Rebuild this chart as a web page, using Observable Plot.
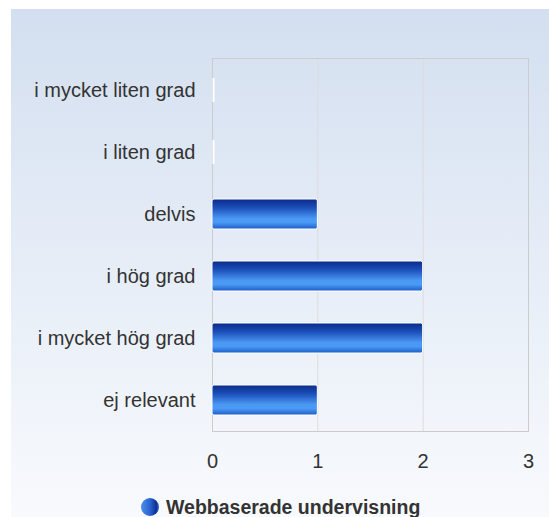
<!DOCTYPE html>
<html>
<head>
<meta charset="utf-8">
<script src="https://cdn.jsdelivr.net/npm/d3@7"></script>
<script src="https://cdn.jsdelivr.net/npm/@observablehq/plot@0.6"></script>
<style>
  html, body { margin: 0; padding: 0; background: #ffffff; }
  #wrap {
    position: absolute; left: 11px; top: 9px; width: 538px; height: 508px;
    background: linear-gradient(to bottom, #d3dff0 0%, #e6edf7 50%, #f8fafd 100%);
    font-family: "Liberation Sans", Arial, sans-serif;
  }
  #legend {
    position: absolute; left: 130px; top: 488px; height: 20px;
    display: flex; align-items: center; gap: 7px;
    font-weight: bold; font-size: 19.5px; color: #333;
  }
  #legend .dot {
    width: 18px; height: 18px; border-radius: 50%; flex: none;
    background: linear-gradient(to right, #4d8fe9 0%, #2a63d0 50%, #0d2f93 85%, #3a6fd6 100%);
  }
</style>
</head>
<body>
<div id="wrap">
  <div id="chart"></div>
  <div id="legend"><span class="dot"></span><span id="legendText"></span></div>
</div>
<script>
const categories = ["i mycket liten grad", "i liten grad", "delvis", "i hög grad", "i mycket hög grad", "ej relevant"];
const values = [0, 0, 1, 2, 2, 1];
const xTicks = [0, 1, 2, 3];
const seriesName = "Webbaserade undervisning";

const data = categories.map((c, i) => ({cat: c, value: values[i]}));

const svg = Plot.plot({
  width: 538,
  height: 470,
  marginLeft: 201,
  marginRight: 21,
  marginTop: 49,
  marginBottom: 48,
  style: {background: "transparent", fontFamily: "'Liberation Sans', Arial, sans-serif", fontSize: "20px", color: "#333"},
  x: {domain: [0, 3], label: null},
  y: {domain: categories, paddingInner: 0.52, paddingOuter: 0.26, label: null},
  marks: [
    Plot.gridX(xTicks, {stroke: "#dcdcdc", strokeOpacity: 1}),
    Plot.frame({stroke: "#cccccc"}),
    Plot.barX(data, {x: "value", y: "cat", fill: "url(#barGrad)", stroke: "white", strokeWidth: 1, rx: 2}),
    Plot.tickX(data.filter(d => d.value === 0), {x: "value", y: "cat", stroke: "white", strokeWidth: 2, dx: 1, inset: 3}),
    Plot.axisX(xTicks, {tickSize: 0, tickPadding: 22, label: null, fill: "#333", fontSize: 20}),
    Plot.axisY({tickSize: 0, tickPadding: 17, label: null, fill: "#333", fontSize: 20})
  ]
});

const ns = "http://www.w3.org/2000/svg";
const defs = document.createElementNS(ns, "defs");
const grad = document.createElementNS(ns, "linearGradient");
grad.setAttribute("id", "barGrad");
grad.setAttribute("x1", "0"); grad.setAttribute("y1", "0");
grad.setAttribute("x2", "0"); grad.setAttribute("y2", "1");
[["0%", "#0a2a88"], ["30%", "#1d50bb"], ["65%", "#4a98f3"], ["78%", "#4b9af5"], ["100%", "#1e5cc9"]].forEach(([o, c]) => {
  const s = document.createElementNS(ns, "stop");
  s.setAttribute("offset", o); s.setAttribute("stop-color", c);
  grad.appendChild(s);
});
defs.appendChild(grad);
svg.insertBefore(defs, svg.firstChild);

document.getElementById("chart").appendChild(svg);
document.getElementById("legendText").textContent = seriesName;
</script>
</body>
</html>
